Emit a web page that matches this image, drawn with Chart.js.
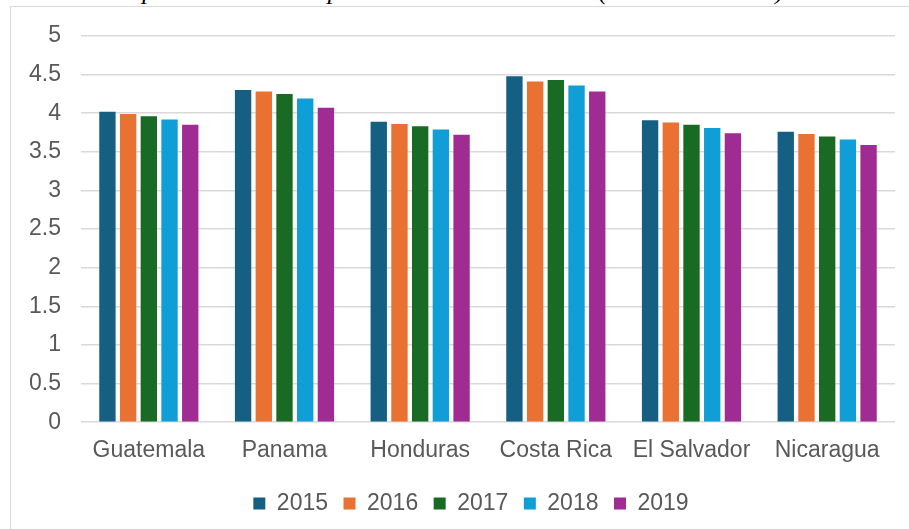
<!DOCTYPE html>
<html>
<head>
<meta charset="utf-8">
<script src="https://cdn.jsdelivr.net/npm/chart.js@4"></script>
<style>
  html, body { margin: 0; padding: 0; background: #fff; overflow: hidden; }
  #wrap { position: relative; width: 909px; height: 529px; overflow: hidden; }
  #caption {
    position: absolute; right: 125px; top: -24px; white-space: nowrap; line-height: 26px;
    font: italic 26px "Liberation Serif", "Times New Roman", serif; color: #000;
  }
  #frame {
    position: absolute; left: 10px; top: 6px; width: 1000px; height: 600px;
    border: 1.5px solid #d9d9d9; box-sizing: border-box;
  }
  #chart { position: absolute; left: 0; top: 0; }
</style>
</head>
<body>
<div id="wrap">
  <div id="caption">Figura 1. Índice de competitividad de los países Centroamericanos (años 2015-2019)</div>
  <div id="frame"></div>
  <canvas id="chart" width="909" height="529"></canvas>
</div>
<script>
const countries = ['Guatemala', 'Panama', 'Honduras', 'Costa Rica', 'El Salvador', 'Nicaragua'];
const years = ['2015', '2016', '2017', '2018', '2019'];

const values2015 = [4.02, 4.30, 3.89, 4.48, 3.91, 3.76];
const values2016 = [3.99, 4.28, 3.86, 4.41, 3.88, 3.73];
const values2017 = [3.96, 4.25, 3.83, 4.43, 3.85, 3.70];
const values2018 = [3.92, 4.19, 3.79, 4.36, 3.81, 3.66];
const values2019 = [3.85, 4.07, 3.72, 4.28, 3.74, 3.59];

const colors = ['#156082', '#E97132', '#196B24', '#0F9ED5', '#A02B93'];

Chart.defaults.font.family = '"Liberation Sans", Arial, sans-serif';
Chart.defaults.font.size = 23;
Chart.defaults.color = '#595959';

const series = [values2015, values2016, values2017, values2018, values2019];

// legend sits a bit right of the plot centre in the original
const legendShift = {
  id: 'legendShift',
  afterLayout(chart) {
    chart.legend.left += 10;
    chart.legend.right += 10;
  },
};

new Chart(document.getElementById('chart').getContext('2d'), {
  type: 'bar',
  data: {
    labels: countries,
    datasets: series.map((vals, i) => ({
      label: years[i],
      data: vals,
      backgroundColor: colors[i],
      borderWidth: 0,
      categoryPercentage: 0.763,
      barPercentage: 0.79,
    })),
  },
  options: {
    responsive: false,
    animation: false,
    devicePixelRatio: 1,
    layout: { padding: { left: 27, right: 14, top: 36, bottom: 4 } },
    plugins: {
      tooltip: { enabled: false },
      legend: {
        position: 'bottom',
        labels: { boxWidth: 12, boxHeight: 12, padding: 15.5 },
      },
    },
    scales: {
      x: {
        grid: { display: false, drawTicks: false },
        border: { display: false },
        ticks: { padding: 15 },
        afterFit: (scale) => { scale.height = 54.3; },
      },
      y: {
        min: 0,
        max: 5,
        grid: { color: '#d9d9d9', lineWidth: 1.5, drawTicks: false },
        border: { display: false },
        ticks: { stepSize: 0.5, padding: 20, callback: (v) => String(+v.toFixed(1)) },
        afterFit: (scale) => { scale.width = 54; },
      },
    },
  },
  plugins: [legendShift],
});
</script>
</body>
</html>
